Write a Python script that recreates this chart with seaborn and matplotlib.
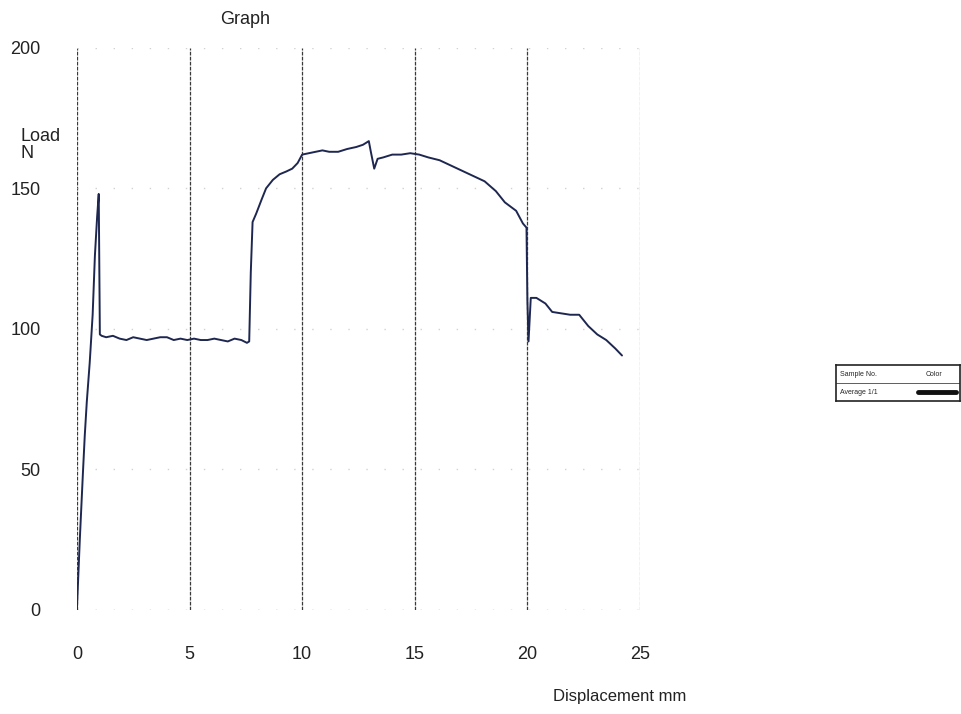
import matplotlib
matplotlib.use("Agg")
import matplotlib.pyplot as plt
import seaborn as sns
import pandas as pd

# ---- data ----
displacement_mm = [0.0, 0.13, 0.27, 0.35, 0.44, 0.57, 0.70, 0.80, 0.90, 0.97, 1.02, 1.10,
                   1.3, 1.6, 1.9, 2.2, 2.5, 2.8, 3.1, 3.4, 3.7, 4.0, 4.3, 4.6, 4.9, 5.2,
                   5.5, 5.8, 6.1, 6.4, 6.7, 7.0, 7.3, 7.55, 7.65, 7.72, 7.8, 7.96, 8.2,
                   8.4, 8.7, 9.0, 9.3, 9.56, 9.8, 10.0, 10.3, 10.6, 10.9, 11.2, 11.6,
                   12.0, 12.4, 12.7, 12.96, 13.05, 13.2, 13.35, 13.6, 14.0, 14.4, 14.8,
                   15.2, 15.6, 16.1, 16.5, 16.9, 17.3, 17.7, 18.1, 18.6, 19.0, 19.5,
                   19.8, 19.96, 20.0, 20.05, 20.15, 20.4, 20.8, 21.1, 21.5, 21.9, 22.3,
                   22.7, 23.1, 23.5, 23.9, 24.2]
load_n = [0, 25, 49, 62, 74, 88, 105, 126, 140, 148, 98, 97.5,
          97, 97.5, 96.5, 96, 97, 96.5, 96, 96.5, 97, 97, 96, 96.5, 96, 96.5,
          96, 96, 96.5, 96, 95.5, 96.5, 96, 95, 95.5, 120, 138, 141, 146,
          150, 153, 155, 156, 157, 159, 162, 162.5, 163, 163.5, 163, 163,
          164, 164.7, 165.5, 166.8, 163, 157, 160.5, 161, 162, 162, 162.5,
          162, 161, 160, 158.5, 157, 155.5, 154, 152.5, 149, 145, 142,
          137.5, 136, 110, 95.5, 111, 111, 109, 106, 105.5, 105, 105,
          101, 98, 96, 93, 90.5]

x_ticks = [0, 5, 10, 15, 20, 25]
y_ticks = [0, 50, 100, 150, 200]
title = "Graph"
y_label = "Load\nN"
x_label = "Displacement mm"
legend_header = ["Sample No.", "Color"]
legend_row = "Average 1/1"

df = pd.DataFrame({"Displacement": displacement_mm, "Load": load_n})

sns.set_theme(style="white")
plt.rcParams["font.family"] = ["Liberation Sans Narrow", "Liberation Sans", "DejaVu Sans"]

fig = plt.figure(figsize=(9.61, 7.14), dpi=100)
ax = fig.add_axes([0.080, 0.146, 0.586, 0.787])

sns.lineplot(data=df, x="Displacement", y="Load", sort=False, estimator=None,
             color="#1e2750", linewidth=1.4, ax=ax)

ax.set_xlim(0, 25)
ax.set_ylim(0, 200)
ax.set_xticks(x_ticks)
ax.set_yticks(y_ticks)
ax.set_xticklabels([str(t) for t in x_ticks], fontsize=13, color="#222222")
ax.set_yticklabels([str(t) for t in y_ticks], fontsize=13, color="#222222")
ax.tick_params(axis="x", length=0, pad=26)
ax.tick_params(axis="y", length=0, pad=26)
ax.set_xlabel("")
ax.set_ylabel("")
for s in ax.spines.values():
    s.set_visible(False)

# vertical grid lines (dark, finely dashed) and faint horizontal dotted lines
for t in x_ticks:
    ax.axvline(t, color="#3a3a3a" if t < 25 else "#9a9a9a", linewidth=0.9,
               linestyle=(0, (3, 1)), zorder=0)
for t in y_ticks:
    ax.axhline(t, color="#d2d2d2" if t > 0 else "#9a9a9a", linewidth=1.0,
               linestyle=(0, (1, 12)), zorder=0)

fig.text(245 / 961, 1 - 20 / 714, title, ha="center", va="center", fontsize=13,
         color="#222222")
fig.text(20 / 961, 1 - 145 / 714, y_label, ha="left", va="center", fontsize=13,
         linespacing=0.95, color="#222222")
fig.text(620 / 961, 1 - 696 / 714, x_label, ha="center", va="center", fontsize=12,
         color="#222222")

# small legend table on the right
lax = fig.add_axes([836 / 961, 1 - 401 / 714, 124 / 961, 36 / 714])
lax.set_xlim(0, 1)
lax.set_ylim(0, 1)
lax.set_xticks([])
lax.set_yticks([])
for s in lax.spines.values():
    s.set_color("#222222")
    s.set_linewidth(1.2)
lax.axhline(0.5, color="#444444", linewidth=0.6)
lax.text(0.03, 0.75, legend_header[0], fontsize=5, va="center", ha="left")
lax.text(0.72, 0.75, legend_header[1], fontsize=5, va="center", ha="left")
lax.text(0.03, 0.25, legend_row, fontsize=5, va="center", ha="left")
lax.plot([0.66, 0.97], [0.25, 0.25], color="#111111", linewidth=3.5, solid_capstyle="round")

fig.savefig("out.png", dpi=100, facecolor="white")
